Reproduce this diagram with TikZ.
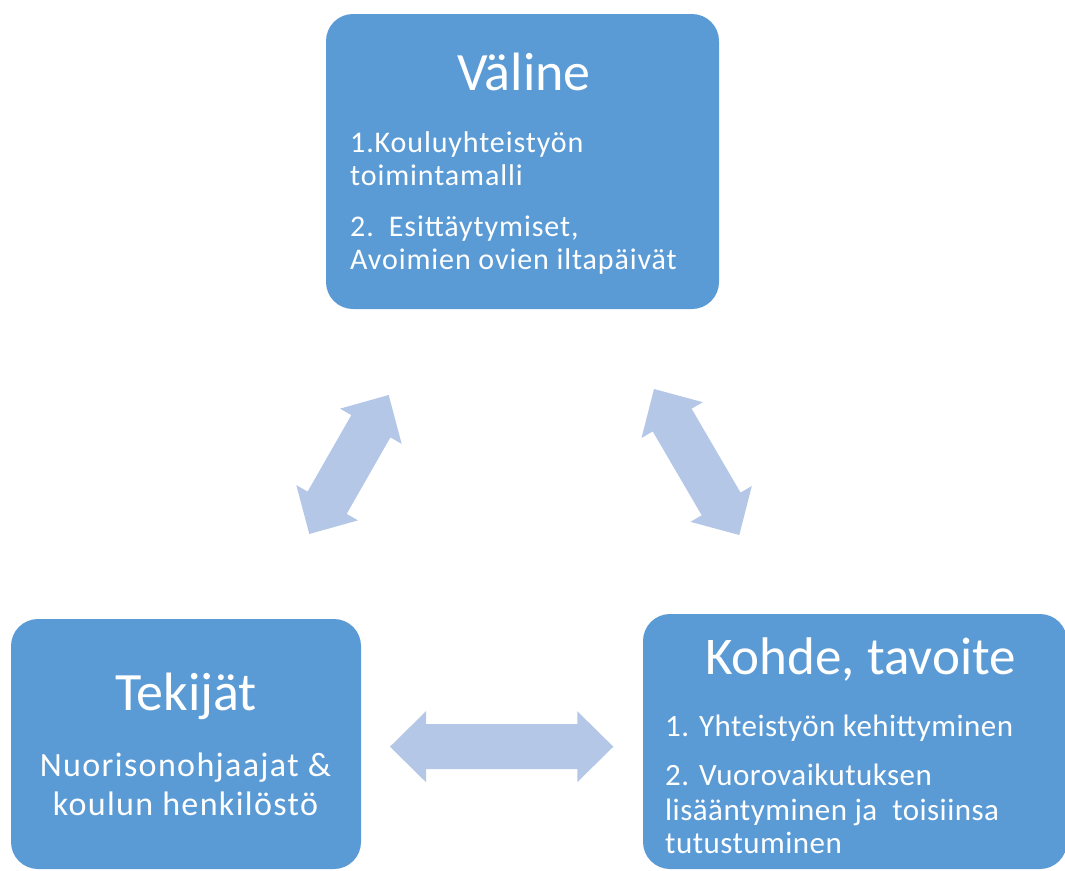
\documentclass[tikz,border=0pt]{standalone}
\usepackage{fontspec}
\setmainfont{Carlito}
\usetikzlibrary{calc}
\definecolor{boxblue}{HTML}{5B9BD5}
\definecolor{arrowblue}{HTML}{B4C7E7}
\tikzset{
  box/.style={rectangle, rounded corners=27pt, fill=boxblue, draw=none, inner sep=0pt},
  arrowfill/.style={fill=arrowblue},
  title/.style={text=white, inner sep=0pt, anchor=base},
  bodyl/.style={text=white, inner sep=0pt, anchor=base west},
  bodyc/.style={text=white, inner sep=0pt, anchor=base},
  topbody/.style={font={\fontsize{30}{34}\selectfont\addfontfeature{LetterSpace=3}}},
  leftbody/.style={font={\fontsize{34}{38}\selectfont\addfontfeature{LetterSpace=4}}},
  rightbody/.style={font={\fontsize{31}{34}\selectfont\addfontfeature{LetterSpace=1.5}}},
}
\newcommand\dblarrow[3]{%
  \coordinate (#1p) at ($(#2)!36pt!(#3)$);
  \coordinate (#1q) at ($(#3)!36pt!(#2)$);
  \fill[arrowfill] (#2) -- ($(#1p)!35.5pt!90:(#3)$) -- ($(#1p)!22.5pt!90:(#3)$)
    -- ($(#1q)!22.5pt!-90:(#2)$) -- ($(#1q)!35.5pt!-90:(#2)$) -- (#3)
    -- ($(#1q)!35.5pt!90:(#2)$) -- ($(#1q)!22.5pt!90:(#2)$)
    -- ($(#1p)!22.5pt!-90:(#3)$) -- ($(#1p)!35.5pt!-90:(#3)$) -- cycle;}
\begin{document}
\begin{tikzpicture}[x=1pt, y=-1pt]
\useasboundingbox (0,0) rectangle (1065,870);
% boxes
\node[box, minimum width=393pt, minimum height=295pt] (valine) at (522.5,161.5) {};
\node[box, minimum width=350pt, minimum height=250pt] (tekijat) at (186,744) {};
\node[box, minimum width=424pt, minimum height=255pt] (kohde) at (855,741.5) {};
% top box text
\node[title, font=\fontsize{54}{60}\selectfont] (valineT) at (524,90) {Väline};
\node[bodyl, topbody] (v1) at (350,152) {1.Kouluyhteistyön};
\node[bodyl, topbody] (v2) at (350,185) {toimintamalli};
\node[bodyl, topbody] (v3) at (350,236.5) {2.\hspace{15pt}Esittäytymiset,};
\node[bodyl, topbody] (v4) at (350,269.5) {Avoimien ovien iltapäivät};
% left box text
\node[title, font=\fontsize{54}{60}\selectfont] (tekijatT) at (186,710) {Tekijät};
\node[bodyc, leftbody] (t1) at (185.5,776.7) {Nuorisonohjaajat \&};
\node[bodyc, leftbody] (t2) at (185.5,815) {koulun henkilöstö};
% right box text
\node[title, font=\fontsize{53}{60}\selectfont] (kohdeT) at (860.5,674) {Kohde, tavoite};
\node[bodyl, rightbody] (k1) at (665,736) {1. Yhteistyön kehittyminen};
\node[bodyl, rightbody] (k2) at (665,785) {2. Vuorovaikutuksen};
\node[bodyl, rightbody] (k3) at (665,820.7) {lisääntyminen ja\hspace{15pt}toisiinsa};
\node[bodyl, rightbody] (k4) at (665,853.3) {tutustuminen};
% arrows
\coordinate (la1) at (388.7,395);
\coordinate (la2) at (309.3,534);
\coordinate (ra1) at (654,389);
\coordinate (ra2) at (739.3,535);
\coordinate (ha1) at (390,746.7);
\coordinate (ha2) at (613.3,746.7);
\dblarrow{la}{la1}{la2}
\dblarrow{ra}{ra1}{ra2}
\dblarrow{ha}{ha1}{ha2}
\end{tikzpicture}
\end{document}
